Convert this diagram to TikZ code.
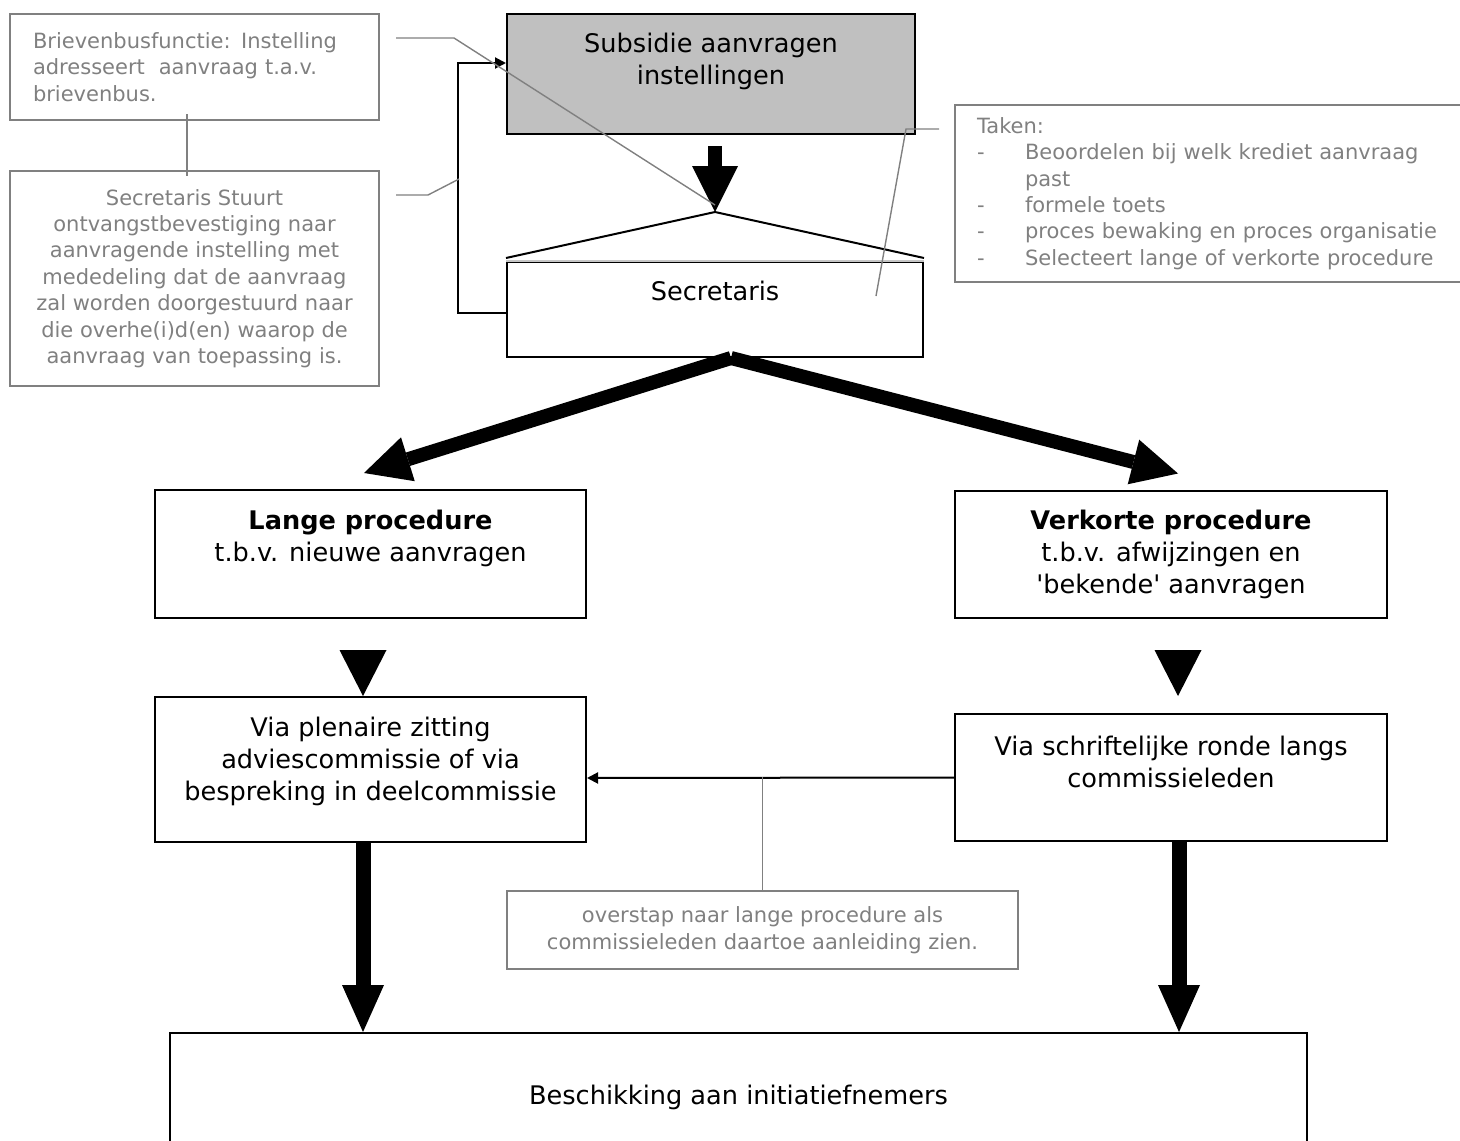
\documentclass[tikz,border=0pt]{standalone}
\usepackage{fontspec}
\setmainfont{DejaVu Sans}
\usepackage{tikz}
\usetikzlibrary{arrows.meta}
\definecolor{notegray}{HTML}{808080}
\definecolor{boxgray}{HTML}{C0C0C0}
\tikzstyle{bx}=[shape=rectangle,draw,line width=1pt,inner sep=0pt,align=center,font=\fontsize{12.8pt}{16pt}\selectfont]
\tikzstyle{txt}=[inner sep=0pt,align=center,font=\fontsize{12.8pt}{16pt}\selectfont]
\tikzstyle{nt}=[shape=rectangle,draw=notegray,line width=1pt,text=notegray,inner sep=0pt,font=\fontsize{10.5pt}{13.2pt}\selectfont]
\tikzstyle{ntline}=[draw=notegray,line width=0.7pt]
\tikzstyle{pointer}=[line width=1pt,-{Triangle[length=5.5pt,width=5.5pt]}]
\tikzstyle{fat}=[line width=7pt,-{Triangle[length=23pt,width=23pt,line width=0pt]}]
\tikzstyle{fatdown}=[line width=7.5pt,-{Triangle[length=23.5pt,width=21pt,line width=0pt]}]
\tikzstyle{headonly}=[line width=0.1pt,-{Triangle[length=23pt,width=23.5pt,line width=0pt]}]

\begin{document}
\begin{tikzpicture}[x=0.5pt,y=-0.5pt]
    \useasboundingbox (0,0) rectangle (1460,1140);

    \node[bx,fill=boxgray,minimum width=204pt,minimum height=60pt] (subsidie) at (711,74) {};
    \node[txt] (subsidietxt) at (711,61) {Subsidie aanvragen\\instellingen};
    \coordinate (apex) at (715,212);
    \node[bx,minimum width=208pt,minimum height=47.5pt] (secr) at (715,309.5) {};
    \node[txt] (secrtxt) at (715,291) {Secretaris};
    \node[bx,minimum width=215.5pt,minimum height=64pt] (lange) at (370.5,554) {};
    \node[txt] (langetxt) at (370.5,538) {\textbf{Lange procedure}\\t.b.v. nieuwe aanvragen};
    \node[bx,minimum width=216pt,minimum height=63.5pt] (verkort) at (1171,554.5)
        {\textbf{Verkorte procedure}\\t.b.v. afwijzingen en\\\textquotesingle bekende\textquotesingle{} aanvragen};
    \node[bx,minimum width=215.5pt,minimum height=72.5pt] (plenaire) at (370.5,769.5) {};
    \node[txt] (plenairetxt) at (370.5,761) {Via plenaire zitting\\adviescommissie of via\\bespreking in deelcommissie};
    \node[bx,minimum width=216pt,minimum height=63.5pt] (schrift) at (1171,777.5) {};
    \node[txt] (schrifttxt) at (1171,762) {Via schriftelijke ronde langs\\commissieleden};
    \node[bx,minimum width=568.5pt,minimum height=64pt] (beschik) at (738.5,1097) {Beschikking aan initiatiefnemers};

    \node[nt,align=left,text width=161.5pt,inner xsep=11.5pt,minimum height=53pt] (brief) at (194.5,67)
        {Brievenbusfunctie: Instelling\\adresseert~ aanvraag t.a.v.\\brievenbus.};
    \node[nt,align=center,minimum width=184.5pt,minimum height=107.5pt] (stuurt) at (194.5,278.5)
        {Secretaris Stuurt\\ontvangstbevestiging naar\\aanvragende instelling met\\mededeling dat de aanvraag\\zal worden doorgestuurd naar\\die overhe(i)d(en) waarop de\\aanvraag van toepassing is.};
    \node[nt,align=left,text width=235.5pt,inner xsep=11pt,minimum height=88.5pt] (taken) at (1212.5,193.5)
        {Taken:\\\makebox[24pt][l]{-}Beoordelen bij welk krediet aanvraag\\\hspace*{24pt}past\\\makebox[24pt][l]{-}formele toets\\\makebox[24pt][l]{-}proces bewaking en proces organisatie\\\makebox[24pt][l]{-}Selecteert lange of verkorte procedure};
    \node[nt,align=center,minimum width=255.5pt,minimum height=39pt] (overstap) at (762.5,930)
        {overstap naar lange procedure als\\commissieleden daartoe aanleiding zien.};
    \coordinate (kink) at (459,179);

    \draw[line width=1pt] ([yshift=1.5pt]secr.north west) -- (apex) -- ([yshift=1.5pt]secr.north east);
    \draw[gray!45,line width=1pt] (secr.north west) -- (secr.north east);

    \draw[fat] ([xshift=2pt,yshift=-5.5pt]subsidie.south) -- (apex);
    \draw[fat] ([xshift=8pt]secr.south) -- ([xshift=-3.25pt,yshift=8pt]lange.north);
    \draw[fat] ([xshift=8pt]secr.south) -- ([xshift=3.5pt,yshift=8.25pt]verkort.north);
    \draw[headonly] ([xshift=-3.75pt,yshift=-16.5pt]lange.south) -- ([xshift=-3.75pt]plenaire.north);
    \draw[headonly] ([xshift=3.5pt,yshift=-16.5pt]verkort.south) -- ([xshift=3.5pt,yshift=8.5pt]schrift.north);
    \draw[fatdown] ([xshift=-3.75pt]plenaire.south) -- ([xshift=-187.75pt]beschik.north);
    \draw[fatdown] ([xshift=4pt]schrift.south) -- ([xshift=220.25pt]beschik.north);

    \draw[pointer] ([yshift=-1.75pt]secr.west) -- ++(-24pt,0) |- ([yshift=5.5pt]subsidie.west);
    \draw[pointer] (schrift.west) -- ([yshift=-4.25pt]plenaire.east);

    \draw[ntline] ([xshift=-3.75pt,yshift=3.5pt]brief.south) -- ([xshift=-3.75pt,yshift=-3pt]stuurt.north);
    \draw[ntline] ([xshift=8pt,yshift=14.5pt]brief.east) -- ++(29pt,0) -- ([yshift=3.5pt]apex);
    \draw[ntline] ([xshift=8pt,yshift=41.75pt]stuurt.east) -- ++(16pt,0) -- (kink);
    \draw[ntline] ([xshift=-7.5pt,yshift=32.25pt]taken.west) -- ++(-16.5pt,0) -- ([xshift=-24pt,yshift=6.75pt]secr.east);
    \draw[ntline] ([yshift=56.5pt]overstap.north) -- (overstap.north);
\end{tikzpicture}
\end{document}
